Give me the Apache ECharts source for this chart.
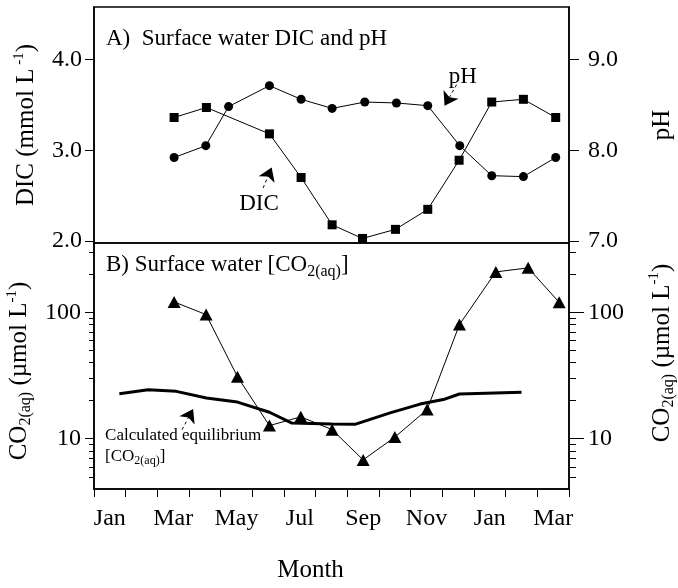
<!DOCTYPE html>
<html lang="en">
<head>
    <meta charset="UTF-8">
    <title>Surface water DIC, pH and CO2(aq)</title>
    <script src="https://cdn.jsdelivr.net/npm/echarts@6/dist/echarts.min.js"></script>
    <style>html, body { margin: 0; background: #fff; }</style>
</head>
<body>
    <div id="main" style="width:678px; height:588px;"></div>
    <script>
        // month axis: 0 = start of Jan, 15 = end of the following Mar
        var monthNames = ['Jan', 'Feb', 'Mar', 'Apr', 'May', 'Jun', 'Jul', 'Aug', 'Sep', 'Oct', 'Nov', 'Dec', 'Jan', 'Feb', 'Mar'];

        // A) DIC (mmol/L)
        var dicMonths = [2.53, 3.55, 5.54, 6.54, 7.52, 8.48, 9.52, 10.54, 11.53, 12.56, 13.56, 14.58];
        var dic = [3.36, 3.47, 3.18, 2.70, 2.18, 2.03, 2.13, 2.35, 2.89, 3.53, 3.56, 3.36];

        // A) pH
        var phMonths = [2.53, 3.53, 4.25, 5.54, 6.54, 7.52, 8.55, 9.55, 10.54, 11.55, 12.56, 13.56, 14.58];
        var ph = [7.92, 8.05, 8.48, 8.71, 8.56, 8.46, 8.53, 8.52, 8.49, 8.05, 7.72, 7.71, 7.92];

        // B) measured CO2(aq) (umol/L)
        var co2Months = [2.53, 3.54, 4.53, 5.54, 6.53, 7.52, 8.5, 9.5, 10.52, 11.54, 12.69, 13.71, 14.69];
        var co2 = [121, 96, 31, 12.7, 14.9, 11.8, 6.8, 10.3, 17.0, 80, 209, 225, 120];

        // B) calculated equilibrium CO2(aq)
        var eqMonths = [0.8, 1.71, 2.6, 3.55, 4.53, 5.54, 6.25, 7.5, 8.24, 9.35, 10.3, 11.03, 11.54, 13.5];
        var eqCo2 = [22.7, 24.4, 23.7, 21.0, 19.5, 16.2, 13.3, 13.1, 13.0, 16.0, 18.8, 20.4, 22.6, 23.3];

        // tick labels
        var dicTicks = [2, 3, 4];
        var phTicks = [7, 8, 9];
        var co2Major = [10, 100];
        var co2Minor = [5, 6, 7, 8, 9, 20, 30, 40, 50, 60, 70, 80, 90, 200, 300];

        var font = "'Liberation Serif', 'Times New Roman', serif";
        var black = '#000';

        function pairs(xs, ys) {
            return xs.map(function (x, i) { return [x, ys[i]]; });
        }

        var rich = {
            sub: { fontFamily: font, color: black, fontSize: 16, lineHeight: 16, verticalAlign: 'bottom' },
            sup: { fontFamily: font, color: black, fontSize: 15, lineHeight: 15, verticalAlign: 'top' }
        };
        var smallRich = {
            s: { fontFamily: font, color: black, fontSize: 12, lineHeight: 12, verticalAlign: 'bottom' }
        };

        function nameStyle(size, pad) {
            return { fontFamily: font, color: black, fontSize: size, lineHeight: 30, padding: pad || 0, rich: rich };
        }
        var lineAxis = { show: true, lineStyle: { color: black, width: 1.5 } };
        function labelStyle(margin, vals, fmt) {
            return { customValues: vals, margin: margin, fontSize: 24, fontFamily: font, color: black, formatter: fmt };
        }
        function fixed1(v) { return Number(v).toFixed(1); }
        function plain(v) { return String(Math.round(v)); }

        var chart = echarts.init(document.getElementById('main'));
        chart.setOption({
            animation: false,
            backgroundColor: '#fff',
            title: [
                {
                    text: 'A)  Surface water DIC and pH',
                    left: 106, top: 27, padding: 0,
                    textStyle: { fontFamily: font, fontSize: 23, fontWeight: 'normal', color: black }
                },
                {
                    text: 'B) Surface water [CO{sub|2(aq)}]',
                    left: 106, top: 250, padding: 0,
                    textStyle: { fontFamily: font, fontSize: 23, fontWeight: 'normal', color: black, lineHeight: 30, rich: rich }
                }
            ],
            grid: [
                { left: 94, right: 109, top: 7, height: 236, show: true, borderColor: black, borderWidth: 1.5, outerBoundsMode: 'none' },
                { left: 94, right: 109, top: 243, height: 246, show: true, borderColor: black, borderWidth: 1.5, outerBoundsMode: 'none' }
            ],
            xAxis: [
                { gridIndex: 0, type: 'value', min: 0, max: 15, show: false },
                { gridIndex: 1, type: 'value', min: 0, max: 15, show: false, position: 'top' },
                {
                    gridIndex: 1, type: 'category', position: 'bottom', data: monthNames, boundaryGap: true,
                    axisLine: lineAxis,
                    axisTick: { show: true, interval: 0, length: 8, lineStyle: { color: black, width: 1 } },
                    axisLabel: { interval: 1, margin: 18, fontSize: 24, fontFamily: font, color: black },
                    splitLine: { show: false },
                    name: 'Month', nameLocation: 'middle', nameGap: 69,
                    nameTextStyle: { fontFamily: font, fontSize: 25, color: black, padding: [0, 42, 0, 0] }
                }
            ],
            yAxis: [
                {
                    gridIndex: 0, type: 'value', position: 'left', min: 1.98, max: 4.575,
                    axisLine: lineAxis,
                    axisTick: { show: true, customValues: dicTicks, length: 9, lineStyle: { color: black } },
                    axisLabel: labelStyle(12, dicTicks, fixed1),
                    splitLine: { show: false },
                    name: 'DIC (mmol L{sup| -1})', nameLocation: 'middle', nameRotate: 90, nameGap: 52,
                    nameTextStyle: nameStyle(25)
                },
                {
                    gridIndex: 0, type: 'value', position: 'right', min: 6.98, max: 9.575,
                    axisLine: lineAxis,
                    axisTick: { show: true, customValues: phTicks, length: 10, lineStyle: { color: black } },
                    axisLabel: labelStyle(19, phTicks, fixed1),
                    splitLine: { show: false },
                    name: 'pH', nameLocation: 'middle', nameRotate: 90, nameGap: 78,
                    nameTextStyle: nameStyle(25)
                },
                {
                    gridIndex: 1, type: 'log', logBase: 10, position: 'left', min: 4, max: 354,
                    axisLine: lineAxis,
                    axisTick: { show: true, customValues: co2Major, length: 9, lineStyle: { color: black } },
                    axisLabel: labelStyle(13, co2Major, plain),
                    splitLine: { show: false },
                    name: 'CO{sub|2(aq)} (µmol L{sup|-1})', nameLocation: 'middle', nameRotate: 90, nameGap: 52,
                    nameTextStyle: nameStyle(25, [0, 10, 0, 0])
                },
                {
                    gridIndex: 1, type: 'log', logBase: 10, position: 'left', min: 4, max: 354,
                    axisLine: { show: false },
                    axisTick: { show: true, customValues: co2Minor, length: 5, lineStyle: { color: black } },
                    axisLabel: { show: false },
                    splitLine: { show: false }
                },
                {
                    gridIndex: 1, type: 'log', logBase: 10, position: 'right', min: 4, max: 354,
                    axisLine: lineAxis,
                    axisTick: { show: true, customValues: co2Major, length: 15, lineStyle: { color: black } },
                    axisLabel: labelStyle(19, co2Major, plain),
                    splitLine: { show: false },
                    name: 'CO{sub|2(aq)} (µmol L{sup|-1})', nameLocation: 'middle', nameRotate: 90, nameGap: 78,
                    nameTextStyle: nameStyle(25, [0, 0, 0, 26])
                },
                {
                    gridIndex: 1, type: 'log', logBase: 10, position: 'right', min: 4, max: 354,
                    axisLine: { show: false },
                    axisTick: { show: true, customValues: co2Minor, length: 7, lineStyle: { color: black } },
                    axisLabel: { show: false },
                    splitLine: { show: false }
                }
            ],
            series: [
                {
                    name: 'DIC', type: 'line', xAxisIndex: 0, yAxisIndex: 0,
                    data: pairs(dicMonths, dic),
                    symbol: 'rect', symbolSize: 9,
                    lineStyle: { color: black, width: 1 }, itemStyle: { color: black },
                    markLine: {
                        silent: true, symbol: ['none', 'arrow'], symbolSize: 13,
                        lineStyle: { color: black, width: 1, type: [3, 3] },
                        label: { show: false },
                        data: [
                            [{ coord: [11.45, 3.72] }, { coord: [11.07, 3.49] }],
                            [{ coord: [5.34, 2.585] }, { coord: [5.61, 2.81] }]
                        ]
                    },
                    markPoint: {
                        silent: true, symbol: 'circle', symbolSize: 1, itemStyle: { color: 'transparent' },
                        label: { show: true, position: 'inside', fontFamily: font, fontSize: 23, color: black },
                        data: [
                            { coord: [11.65, 3.81], label: { formatter: 'pH' } },
                            { coord: [5.21, 2.41], label: { formatter: 'DIC' } }
                        ]
                    }
                },
                {
                    name: 'pH', type: 'line', xAxisIndex: 0, yAxisIndex: 1,
                    data: pairs(phMonths, ph),
                    symbol: 'circle', symbolSize: 9,
                    lineStyle: { color: black, width: 1 }, itemStyle: { color: black }
                },
                {
                    name: 'Calculated equilibrium', type: 'line', xAxisIndex: 1, yAxisIndex: 2,
                    data: pairs(eqMonths, eqCo2),
                    showSymbol: false, symbol: 'none',
                    lineStyle: { color: black, width: 3 },
                    markLine: {
                        silent: true, symbol: ['none', 'arrow'], symbolSize: 13,
                        lineStyle: { color: black, width: 1, type: [3, 3] },
                        label: { show: false },
                        data: [[{ coord: [2.78, 11.8] }, { coord: [3.13, 17.2] }]]
                    },
                    markPoint: {
                        silent: true, symbol: 'circle', symbolSize: 1, itemStyle: { color: 'transparent' },
                        label: {
                            show: true, position: 'inside', align: 'left',
                            fontFamily: font, fontSize: 17, lineHeight: 21, color: black, rich: smallRich
                        },
                        data: [{ coord: [0.35, 8.72], label: { formatter: 'Calculated equilibrium\n[CO{s|2(aq)}]' } }]
                    }
                },
                {
                    name: 'CO2(aq)', type: 'line', xAxisIndex: 1, yAxisIndex: 2,
                    data: pairs(co2Months, co2),
                    symbol: 'triangle', symbolSize: [13, 12],
                    lineStyle: { color: black, width: 1 }, itemStyle: { color: black },
                    z: 3
                }
            ]
        });
    </script>
</body>
</html>
